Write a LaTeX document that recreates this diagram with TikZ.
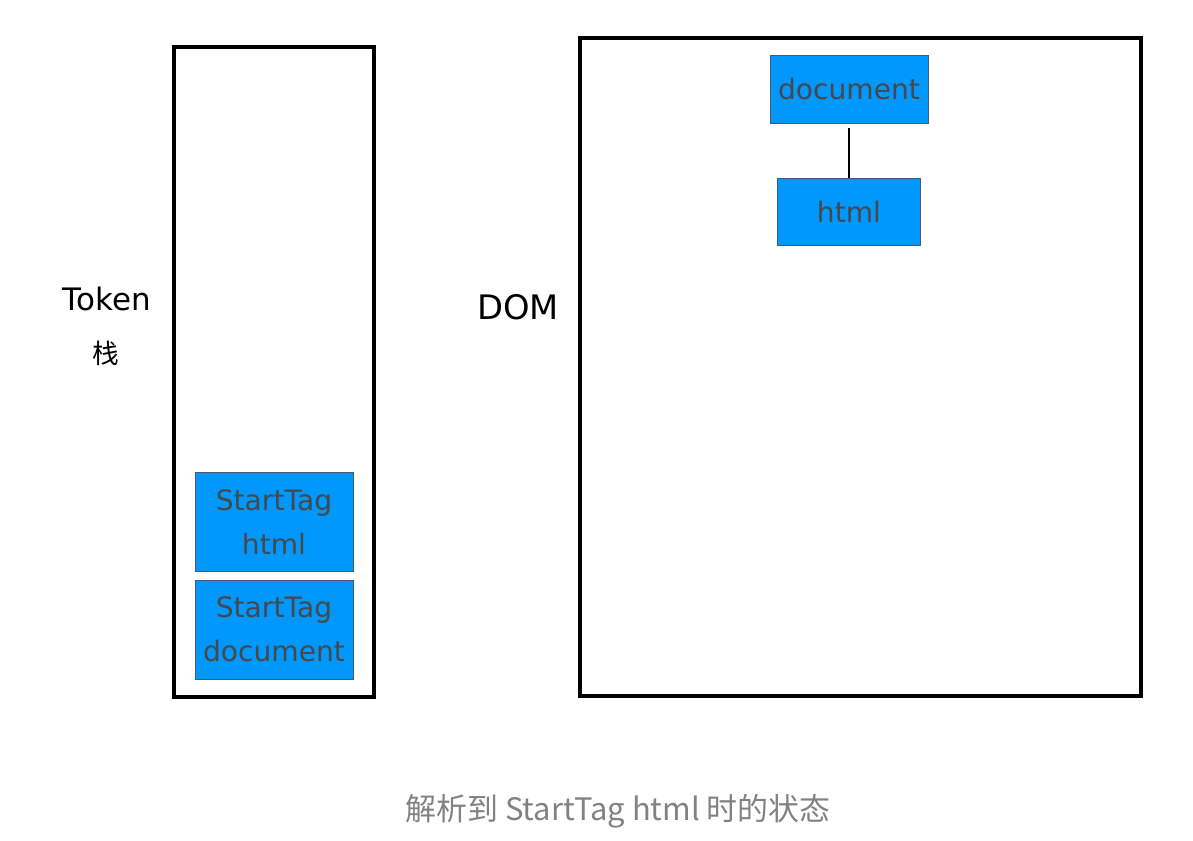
\documentclass[tikz,border=0pt]{standalone}
\usepackage{fontspec}
\setmainfont{DejaVu Sans}
\newfontfamily\cjk{Noto Sans CJK SC}
\usetikzlibrary{positioning}
\definecolor{boxblue}{RGB}{0,152,252}
\definecolor{boxline}{RGB}{70,90,115}
\definecolor{boxtext}{RGB}{72,72,72}
\definecolor{captiongray}{RGB}{130,130,130}
\tikzset{frame/.style = {draw, line width = 2.2pt},
         tok/.style = {draw = boxline, fill = boxblue, text = boxtext, align = center, minimum width = 3.95cm, minimum height = 2.475cm, font = \fontsize{20}{31}\selectfont},
         domnode/.style = {draw = boxline, fill = boxblue, text = boxtext, minimum height = 1.7cm, font = \fontsize{20}{24}\selectfont},
         label/.style = {font = \fontsize{22}{26}\selectfont},
}

\begin{document}
\begin{tikzpicture}[x = 0.025cm, y = -0.025cm]

  \useasboundingbox (0,0) rectangle (1193,841);

  % stack and DOM frames
  \draw[frame] (174,47) rectangle (374,697);
  \draw[frame] (580,38) rectangle (1141,696);

  % token stack
  \node[tok] (tag_doc) at (274,629.5) {StartTag\\document};
  \node[tok, above = 0.2cm of tag_doc] (tag_html) {StartTag\\html};

  \node[label] (token) at (107,299) {Token};
  \node[label, font = \cjk\fontsize{19}{23}\selectfont] (stack) at (106,353) {栈};
  \node[label, font = \fontsize{24}{28}\selectfont] (dom) at (518,307) {DOM};

  % DOM tree
  \node[domnode, minimum width = 3.95cm] (doc) at (849,89) {document};
  \node[domnode, minimum width = 3.575cm, minimum height = 1.675cm, below = 1.375cm of doc] (html) {html};

  \draw[line width = 1pt, shorten <= 0.13cm] (doc) -- (html);

  \node[text = captiongray, font = \cjk\fontsize{22}{26}\selectfont] (caption) at (618,811) {解析到 StartTag html 时的状态};

\end{tikzpicture}
\end{document}
